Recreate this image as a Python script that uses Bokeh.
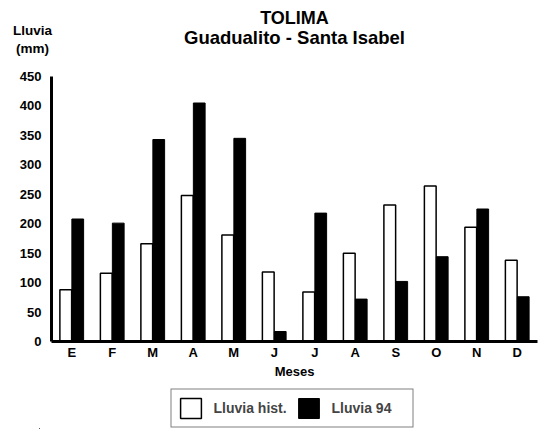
from bokeh.plotting import figure
from bokeh.layouts import column
from bokeh.models import Range1d, Label, Legend, LegendItem, FixedTicker
from bokeh.transform import dodge
from bokeh.embed import file_html
from bokeh.resources import INLINE

months = ["E", "F", "M", "A", "M", "J", "J", "A", "S", "O", "N", "D"]
lluvia_hist = [88, 116, 166, 248, 181, 118, 84, 150, 232, 264, 194, 138]
lluvia_94 = [208, 201, 343, 405, 345, 17, 218, 72, 102, 144, 225, 76]
y_ticks = [0, 50, 100, 150, 200, 250, 300, 350, 400, 450]
series_names = ["Lluvia hist.", "Lluvia 94"]

FONT = "Liberation Sans"
month_pos = list(range(1, len(months) + 1))
data = dict(pos=month_pos, hist=lluvia_hist, l94=lluvia_94)

# ---- header (titles and y-axis caption) ----
head = figure(width=545, height=66, x_range=Range1d(0, 545), y_range=Range1d(66, 0),
              output_backend="svg", toolbar_location=None, title=None,
              x_axis_location=None, y_axis_location=None, min_border=0)
head.frame_align = False
head.outline_line_color = None
head.grid.visible = False

def add_text(txt, x, y, size):
    head.add_layout(Label(x=x, y=y, text=txt, text_font=FONT, text_font_style="bold",
                          text_font_size=size, text_align="center", text_baseline="middle",
                          text_color="black"))

add_text("TOLIMA", 294, 17, "18px")
add_text("Guadualito - Santa Isabel", 294, 37, "18.5px")
add_text("Lluvia", 32, 30, "13.5px")
add_text("(mm)", 32, 48, "13.5px")

# ---- main chart ----
p = figure(
    x_range=Range1d(0.5, 12.5), y_range=Range1d(0, 450),
    width=545, height=320,
    output_backend="svg", toolbar_location=None, title=None,
    min_border_left=51, min_border_right=8, min_border_top=10, min_border_bottom=45,
)
p.outline_line_color = None
p.grid.visible = False

p.vbar(x=dodge("pos", -0.148), top="hist", width=0.29, source=data,
       fill_color="white", line_color="black", line_width=1.5)
p.vbar(x=dodge("pos", 0.148), top="l94", width=0.29, source=data,
       fill_color="black", line_color="black", line_width=1)

for ax in (p.xaxis[0], p.yaxis[0]):
    ax.axis_line_width = 3
    ax.axis_line_color = "black"
    ax.major_tick_in = 0
    ax.major_tick_out = 0
    ax.minor_tick_in = 0
    ax.minor_tick_out = 0
    ax.major_label_text_font = FONT
    ax.major_label_text_font_style = "bold"
    ax.major_label_text_font_size = "13px"
    ax.major_label_text_color = "black"

p.yaxis.ticker = FixedTicker(ticks=y_ticks)
p.yaxis.major_label_standoff = 10
p.xaxis.ticker = FixedTicker(ticks=month_pos)
p.xaxis.major_label_overrides = {i: m for i, m in zip(month_pos, months)}
p.xaxis.major_label_standoff = 3
p.xaxis.axis_label = "Meses"
p.xaxis.axis_label_text_font = FONT
p.xaxis.axis_label_text_font_style = "bold"
p.xaxis.axis_label_text_font_size = "13px"
p.xaxis.axis_label_text_color = "black"
p.xaxis.axis_label_standoff = 1

# ---- footer with the legend (series keys drawn from the same data, outside its view) ----
foot = figure(width=545, height=43, x_range=Range1d(1000, 1001), y_range=Range1d(1000, 1001),
              output_backend="svg", toolbar_location=None, title=None,
              x_axis_location=None, y_axis_location=None,
              min_border=0, min_border_left=39)
foot.frame_align = False
foot.outline_line_color = None
foot.grid.visible = False
k1 = foot.vbar(x="pos", top="hist", width=0.29, source=data,
               fill_color="white", line_color="black", line_width=1.5)
k2 = foot.vbar(x="pos", top="l94", width=0.29, source=data,
               fill_color="black", line_color="black", line_width=1)

legend = Legend(
    items=[LegendItem(label=series_names[0], renderers=[k1]),
           LegendItem(label=series_names[1], renderers=[k2])],
    orientation="horizontal", location="center",
    glyph_width=26, glyph_height=25,
    label_text_font=FONT, label_text_font_style="bold", label_text_font_size="14px",
    label_standoff=10, label_width=75, spacing=7, padding=6, margin=0,
    border_line_color="black", border_line_width=1,
)
foot.add_layout(legend, "center")

layout = column(head, p, foot, spacing=0)
open("out.html", "w").write(file_html(layout, INLINE))
